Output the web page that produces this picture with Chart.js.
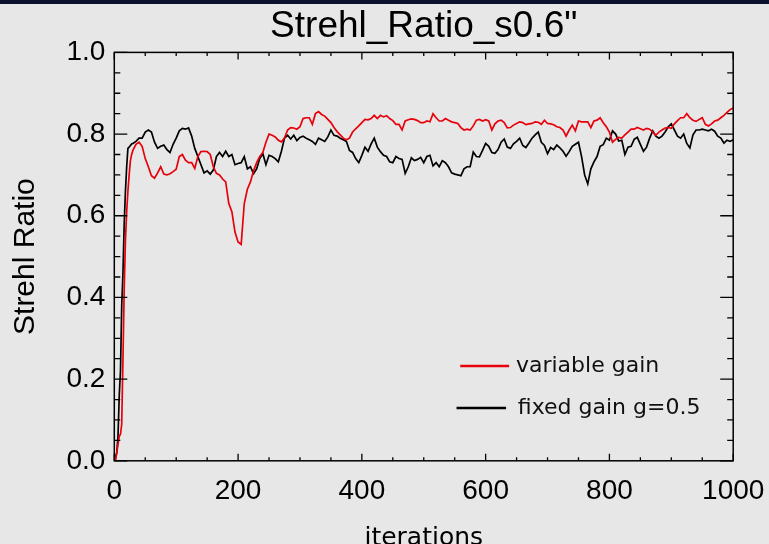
<!DOCTYPE html>
<html>
<head>
<meta charset="utf-8">
<script src="https://cdn.jsdelivr.net/npm/chart.js@4/dist/chart.umd.min.js"></script>
<style>
  html, body { margin: 0; padding: 0; background: #e7e7e7; }
  #wrap { position: relative; width: 769px; height: 544px; overflow: hidden; }
  #band { position: absolute; left: 0; top: 0; width: 769px; height: 4px; background: #0b1230; }
  canvas { display: block; }
</style>
</head>
<body>
<div id="wrap">
  <canvas id="c" width="769" height="544"></canvas>
  <div id="band"></div>
</div>
<script>
// Loop iterations at which the Strehl ratio was sampled
const iterations = [
  0, 2, 4, 6, 8, 10, 12, 14, 16, 18, 20, 22, 24, 26, 28, 30,
  35, 40, 45, 50, 55, 60, 65, 70, 75, 80, 85, 90, 95, 100,
  105, 110, 115, 120, 125, 130, 135, 140, 145, 150, 155, 160, 165, 170, 175, 180, 185, 190, 195, 200,
  205, 210, 215, 220, 225, 230, 235, 240, 245, 250, 255, 260, 265, 270, 275, 280, 285, 290, 295, 300,
  305, 310, 315, 320, 325, 330, 335, 340, 345, 350, 355, 360, 365, 370, 375, 380, 385, 390, 395, 400,
  405, 410, 415, 420, 425, 430, 435, 440, 445, 450, 455, 460, 465, 470, 475, 480, 485, 490, 495, 500,
  505, 510, 515, 520, 525, 530, 535, 540, 545, 550, 555, 560, 565, 570, 575, 580, 585, 590, 595, 600,
  605, 610, 615, 620, 625, 630, 635, 640, 645, 650, 655, 660, 665, 670, 675, 680, 685, 690, 695, 700,
  705, 710, 715, 720, 725, 730, 735, 740, 745, 750, 755, 760, 765, 770, 775, 780, 785, 790, 795, 800,
  805, 810, 815, 820, 825, 830, 835, 840, 845, 850, 855, 860, 865, 870, 875, 880, 885, 890, 895, 900,
  905, 910, 915, 920, 925, 930, 935, 940, 945, 950, 955, 960, 965, 970, 975, 980, 985, 990, 995, 1000
];

// Strehl ratio with the variable loop gain
const variableGain = [
  0.0, 0.0, 0.02, 0.04, 0.06, 0.065, 0.09, 0.25, 0.42, 0.54, 0.61, 0.66, 0.70, 0.735, 0.75, 0.76,
  0.775, 0.78, 0.77, 0.74, 0.72, 0.698, 0.692, 0.705, 0.72, 0.702, 0.70, 0.703, 0.708, 0.714,
  0.745, 0.75, 0.736, 0.73, 0.73, 0.716, 0.745, 0.757, 0.758, 0.757, 0.75, 0.72, 0.704, 0.70, 0.69, 0.683, 0.63, 0.61, 0.56, 0.536,
  0.53, 0.63, 0.665, 0.683, 0.71, 0.73, 0.745, 0.755, 0.78, 0.80, 0.797, 0.793, 0.785, 0.781, 0.79, 0.81, 0.816, 0.815, 0.812, 0.818,
  0.838, 0.84, 0.84, 0.824, 0.85, 0.855, 0.848, 0.844, 0.836, 0.828, 0.816, 0.806, 0.798, 0.79, 0.786, 0.79, 0.805, 0.813, 0.82, 0.828,
  0.836, 0.835, 0.838, 0.846, 0.838, 0.846, 0.842, 0.845, 0.838, 0.833, 0.824, 0.824, 0.81, 0.832, 0.835, 0.837, 0.836, 0.833, 0.828, 0.828,
  0.832, 0.83, 0.85, 0.84, 0.832, 0.832, 0.838, 0.834, 0.83, 0.828, 0.826, 0.816, 0.81, 0.812, 0.81, 0.82, 0.834, 0.836, 0.832, 0.835,
  0.832, 0.81, 0.825, 0.832, 0.834, 0.828, 0.815, 0.816, 0.822, 0.826, 0.83, 0.828, 0.823, 0.825, 0.826, 0.83, 0.829, 0.824, 0.834, 0.826,
  0.825, 0.823, 0.818, 0.816, 0.81, 0.795, 0.81, 0.822, 0.808, 0.832, 0.83, 0.83, 0.83, 0.816, 0.832, 0.834, 0.84, 0.828, 0.818, 0.805,
  0.78, 0.787, 0.792, 0.79, 0.798, 0.805, 0.812, 0.812, 0.816, 0.813, 0.81, 0.814, 0.812, 0.805, 0.797, 0.805, 0.81, 0.815, 0.816, 0.814,
  0.825, 0.833, 0.84, 0.84, 0.85, 0.84, 0.834, 0.831, 0.836, 0.84, 0.824, 0.82, 0.825, 0.832, 0.834, 0.84, 0.846, 0.853, 0.86, 0.864
];

// Strehl ratio with the fixed loop gain g = 0.5
const fixedGain = [
  0.0, 0.01, 0.02, 0.06, 0.16, 0.22, 0.38, 0.46, 0.58, 0.66, 0.72, 0.765, 0.768, 0.772, 0.776, 0.777,
  0.782, 0.79, 0.79, 0.805, 0.81, 0.805, 0.78, 0.765, 0.77, 0.773, 0.762, 0.755, 0.775, 0.79,
  0.808, 0.814, 0.812, 0.815, 0.795, 0.765, 0.745, 0.725, 0.705, 0.71, 0.702, 0.712, 0.745, 0.755, 0.745, 0.758, 0.745, 0.75, 0.725, 0.728,
  0.73, 0.745, 0.715, 0.72, 0.703, 0.715, 0.74, 0.752, 0.725, 0.748, 0.745, 0.74, 0.732, 0.758, 0.79, 0.797, 0.788, 0.797, 0.784, 0.792,
  0.795, 0.79, 0.786, 0.782, 0.775, 0.79, 0.786, 0.782, 0.793, 0.81, 0.797, 0.795, 0.79, 0.786, 0.782, 0.76, 0.755, 0.74, 0.73, 0.748,
  0.768, 0.758, 0.776, 0.79, 0.768, 0.757, 0.748, 0.745, 0.732, 0.73, 0.745, 0.74, 0.738, 0.704, 0.72, 0.742, 0.735, 0.738, 0.743, 0.73,
  0.745, 0.748, 0.722, 0.73, 0.72, 0.735, 0.73, 0.72, 0.705, 0.702, 0.70, 0.698, 0.715, 0.72, 0.72, 0.756, 0.745, 0.744, 0.76, 0.777,
  0.77, 0.755, 0.753, 0.762, 0.78, 0.788, 0.768, 0.765, 0.776, 0.782, 0.79, 0.772, 0.767, 0.778, 0.79, 0.798, 0.805, 0.78, 0.772, 0.752,
  0.767, 0.762, 0.773, 0.766, 0.758, 0.746, 0.757, 0.77, 0.775, 0.78, 0.745, 0.70, 0.678, 0.715, 0.732, 0.745, 0.77, 0.774, 0.79, 0.785,
  0.808, 0.80, 0.783, 0.785, 0.75, 0.768, 0.77, 0.787, 0.792, 0.775, 0.758, 0.768, 0.79, 0.808, 0.795, 0.79, 0.795, 0.805, 0.818, 0.825,
  0.81, 0.795, 0.79, 0.80, 0.777, 0.766, 0.798, 0.81, 0.81, 0.812, 0.81, 0.808, 0.812, 0.807, 0.795, 0.79, 0.778, 0.785, 0.782, 0.786
];

// Axis tick labels
const xTickLabels = ['0', '200', '400', '600', '800', '1000'];
const yTickLabels = ['0.0', '0.2', '0.4', '0.6', '0.8', '1.0'];

const seriesNames = ['variable gain', 'fixed gain g=0.5'];
const seriesColors = ['#e8000b', '#000000'];

const toPoints = vals => iterations.map((it, i) => ({ x: it, y: vals[i] }));

// Plot frame with inward major/minor ticks on all four sides
const framePlugin = {
  id: 'frame',
  afterDatasetsDraw(chart) {
    const { ctx, chartArea: a, scales: { x, y } } = chart;
    ctx.save();
    ctx.strokeStyle = '#000';
    ctx.lineWidth = 1.5;
    ctx.strokeRect(a.left, a.top, a.right - a.left, a.bottom - a.top);
    ctx.lineWidth = 1.3;
    ctx.beginPath();
    for (let v = 0; v <= 1000; v += 50) {
      const px = x.getPixelForValue(v);
      const len = v % 200 === 0 ? 7 : 3.5;
      ctx.moveTo(px, a.bottom); ctx.lineTo(px, a.bottom - len);
      ctx.moveTo(px, a.top); ctx.lineTo(px, a.top + len);
    }
    for (let k = 0; k <= 20; k++) {
      const py = y.getPixelForValue(k * 0.05);
      const len = k % 4 === 0 ? 13 : 6;
      ctx.moveTo(a.left, py); ctx.lineTo(a.left + len, py);
      ctx.moveTo(a.right, py); ctx.lineTo(a.right - len, py);
    }
    ctx.stroke();
    ctx.restore();
  }
};

// Line legend placed inside the plot, anchored in data coordinates
const insideLegend = {
  id: 'insideLegend',
  afterDatasetsDraw(chart) {
    const { ctx, scales: { x, y } } = chart;
    const rows = [
      { x0: 559, x1: 638, yLine: 0.232, xText: 649, yText: 0.2176 },
      { x0: 553, x1: 633, yLine: 0.129, xText: 652, yText: 0.115 }
    ];
    ctx.save();
    ctx.font = '22px "DejaVu Sans"';
    ctx.textBaseline = 'alphabetic';
    ctx.textAlign = 'left';
    rows.forEach((r, i) => {
      ctx.strokeStyle = seriesColors[i];
      ctx.lineWidth = 2.5;
      ctx.beginPath();
      ctx.moveTo(x.getPixelForValue(r.x0), y.getPixelForValue(r.yLine));
      ctx.lineTo(x.getPixelForValue(r.x1), y.getPixelForValue(r.yLine));
      ctx.stroke();
      ctx.fillStyle = '#111';
      ctx.fillText(seriesNames[i], x.getPixelForValue(r.xText), y.getPixelForValue(r.yText));
    });
    ctx.restore();
  }
};

new Chart(document.getElementById('c'), {
  type: 'line',
  data: {
    datasets: [
      { label: seriesNames[0], data: toPoints(variableGain), borderColor: seriesColors[0], borderWidth: 1.7, pointRadius: 0, tension: 0 },
      { label: seriesNames[1], data: toPoints(fixedGain), borderColor: seriesColors[1], borderWidth: 1.7, pointRadius: 0, tension: 0 }
    ]
  },
  options: {
    responsive: false,
    animation: false,
    events: [],
    layout: { padding: { left: 0, right: 35.8, top: 0, bottom: 0 } },
    plugins: {
      legend: { display: false },
      tooltip: { enabled: false },
      title: {
        display: true,
        text: 'Strehl_Ratio_s0.6"',
        fullSize: false,
        color: '#000',
        font: { family: '"Liberation Sans", Arial, sans-serif', size: 37, weight: 'normal', lineHeight: 1.2 },
        padding: { top: 5, bottom: 3 }
      }
    },
    scales: {
      x: {
        type: 'linear', min: 0, max: 1000,
        afterFit: s => { s.height = 83.2; s.paddingLeft = 0; s.paddingRight = 0; },
        afterBuildTicks: s => { s.ticks = xTickLabels.map(t => ({ value: Number(t) })); },
        grid: { display: false, drawTicks: false },
        border: { display: false },
        ticks: {
          color: '#000', padding: 14, maxRotation: 0,
          font: { family: '"Liberation Sans", Arial, sans-serif', size: 28 },
          callback: (v, i) => xTickLabels[i]
        },
        title: {
          display: true, text: 'iterations', color: '#000',
          font: { family: '"DejaVu Sans", sans-serif', size: 25, lineHeight: 1 },
          padding: { top: 0, bottom: -7 }
        }
      },
      y: {
        type: 'linear', min: 0, max: 1,
        afterFit: s => { s.width = 114.3; s.paddingTop = 0; s.paddingBottom = 0; },
        afterBuildTicks: s => { s.ticks = yTickLabels.map(t => ({ value: Number(t) })); },
        grid: { display: false, drawTicks: false },
        border: { display: false },
        ticks: {
          color: '#000', padding: 9,
          font: { family: '"Liberation Sans", Arial, sans-serif', size: 28 },
          callback: (v, i) => yTickLabels[i]
        },
        title: {
          display: true, text: 'Strehl Ratio', color: '#000',
          font: { family: '"Liberation Sans", Arial, sans-serif', size: 30, lineHeight: 1.2 },
          padding: { top: 8, bottom: 0 }
        }
      }
    }
  },
  plugins: [framePlugin, insideLegend]
});
</script>
</body>
</html>
